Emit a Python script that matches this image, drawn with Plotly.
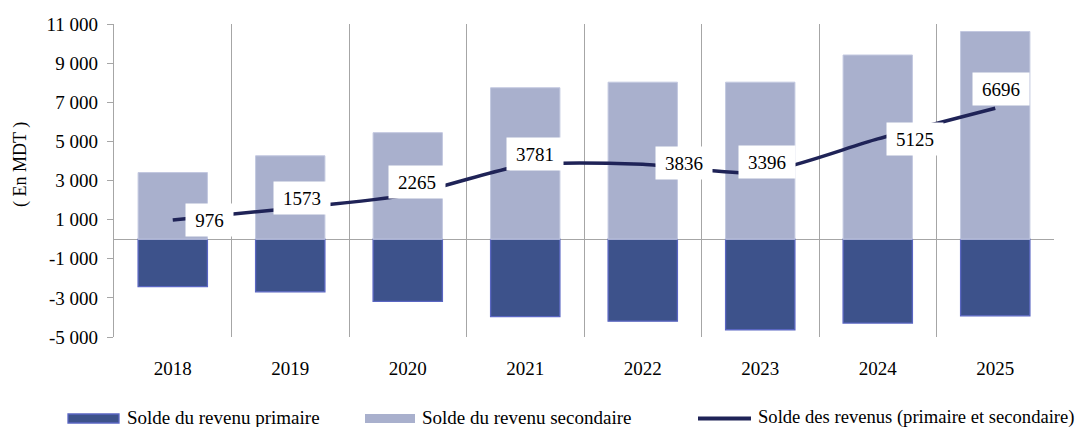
import plotly.graph_objects as go

# Balance of income accounts, in millions of dinars (MDT)
years = ["2018", "2019", "2020", "2021", "2022", "2023", "2024", "2025"]
primary_income = [-2430, -2690, -3180, -3960, -4190, -4630, -4290, -3920]
secondary_income = [3406, 4263, 5445, 7741, 8026, 8026, 9415, 10616]
total_income = [976, 1573, 2265, 3781, 3836, 3396, 5125, 6696]

y_tick_values = [-5000, -3000, -1000, 1000, 3000, 5000, 7000, 9000, 11000]
y_tick_labels = ["-5 000", "-3 000", "-1 000", "1 000", "3 000", "5 000", "7 000", "9 000", "11 000"]

series_names = [
    "Solde du revenu primaire",
    "Solde du revenu secondaire",
    "Solde des revenus (primaire et secondaire)",
]

FONT = "Liberation Serif"
DARK = "#3d528b"
DARK_EDGE = "#5a66c2"
LIGHT = "#a9b0cd"
LINE = "#1f2357"
GRID = "#a6a6a6"

W, H = 1075, 427
L, R, T, B = 114, 21, 24, 90

fig = go.Figure()
fig.add_trace(go.Bar(
    x=years, y=primary_income, name=series_names[0],
    marker=dict(color=DARK, line=dict(color=DARK_EDGE, width=1.3)),
    width=0.59, showlegend=False,
))
fig.add_trace(go.Bar(
    x=years, y=secondary_income, name=series_names[1],
    marker=dict(color=LIGHT, line=dict(color="#c3c8e0", width=1)),
    width=0.59, showlegend=False,
))
fig.add_trace(go.Scatter(
    x=years, y=total_income, name=series_names[2], mode="lines",
    line=dict(color=LINE, width=3.5, shape="spline", smoothing=0.7),
    showlegend=False,
))

# value boxes next to the line (pixel offsets from each point);
# category positions are given by index on the category axis
label_shift = [(37, 0), (12, 10), (9, 13), (10, 11), (41, 1), (7, 11), (37, 0), (6, 19)]
annotations = []
for i, (v, (dx, dy)) in enumerate(zip(total_income, label_shift)):
    txt = str(v)
    annotations.append(dict(
        x=i, y=v, xref="x", yref="y", text=txt, showarrow=False,
        xshift=dx, yshift=dy, xanchor="center", yanchor="middle",
        bgcolor="white", width=9 * len(txt) + 18, height=30,
        font=dict(family=FONT, size=19, color="black"),
    ))

PW, PH = W - L - R, H - T - B


def px(x):
    return (x - L) / PW


def py(y):
    return (H - B - y) / PH


# y-axis title
annotations.append(dict(
    x=px(20), y=py(165), xref="paper", yref="paper", text="( En MDT )",
    showarrow=False, textangle=-90, xanchor="center", yanchor="middle",
    font=dict(family=FONT, size=18, color="black"),
))

# legend drawn along the bottom edge
shapes = [
    dict(type="rect", xref="paper", yref="paper",
         x0=px(68), x1=px(119), y0=py(423), y1=py(414),
         fillcolor=DARK, line=dict(color=DARK_EDGE, width=1.3)),
    dict(type="rect", xref="paper", yref="paper",
         x0=px(365), x1=px(415), y0=py(423), y1=py(414),
         fillcolor=LIGHT, line=dict(width=0)),
    dict(type="line", xref="paper", yref="paper",
         x0=px(698), x1=px(751), y0=py(418.5), y1=py(418.5),
         line=dict(color=LINE, width=4)),
]
for x0, name, size in zip([125, 420, 756], series_names, [19, 19, 18.6]):
    annotations.append(dict(
        x=px(x0), y=py(417), xref="paper", yref="paper", text=name,
        showarrow=False, xanchor="left", yanchor="middle",
        font=dict(family=FONT, size=size, color="black"),
    ))

fig.update_layout(
    width=W, height=H,
    margin=dict(l=L, r=R, t=T, b=B),
    paper_bgcolor="white", plot_bgcolor="white",
    barmode="relative", bargap=0.41,
    font=dict(family=FONT, size=19, color="black"),
    annotations=annotations, shapes=shapes,
    showlegend=False,
)
fig.update_xaxes(
    type="category", range=[-0.5, 7.5],
    tickson="boundaries", showgrid=True, gridcolor=GRID, gridwidth=1.3,
    ticks="", showline=False, zeroline=False,
    tickfont=dict(family=FONT, size=19), ticklabelstandoff=18,
)
fig.update_yaxes(
    range=[-5000, 11000], tickvals=y_tick_values, ticktext=y_tick_labels,
    showgrid=False, zeroline=True, zerolinecolor=GRID, zerolinewidth=1.3,
    showline=True, linecolor=GRID, linewidth=1.3,
    ticks="outside", ticklen=6, tickcolor=GRID, tickwidth=1.3,
    tickfont=dict(family=FONT, size=19), ticklabelstandoff=5,
)

fig.write_html("out.html")
